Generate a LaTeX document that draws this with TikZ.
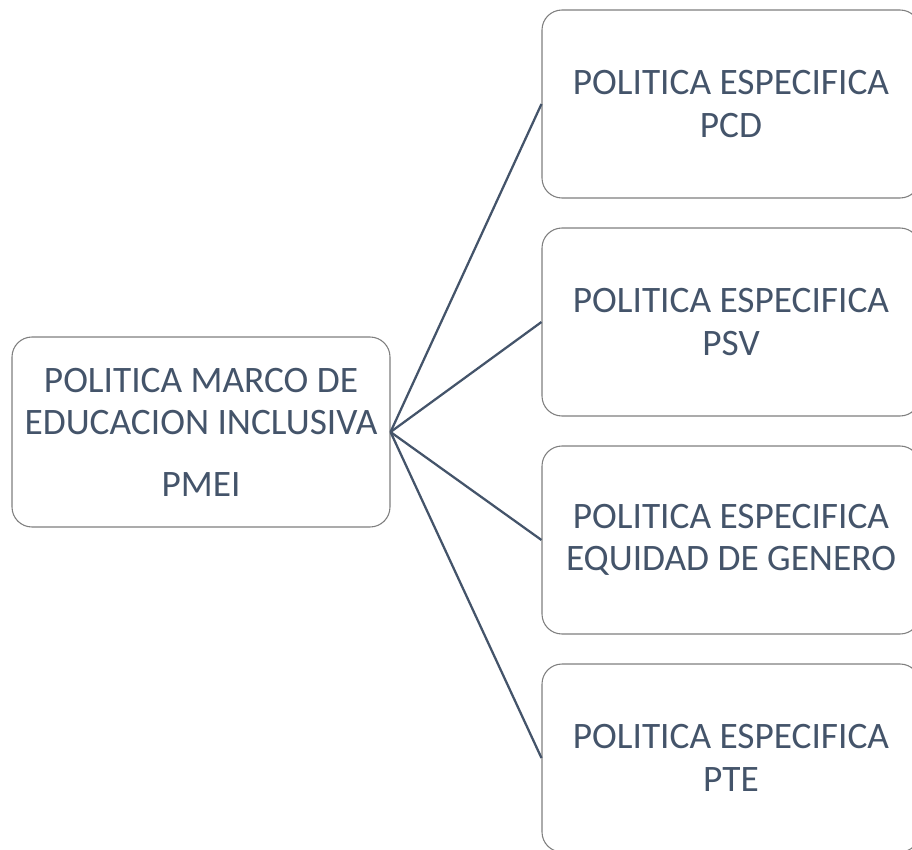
\documentclass[tikz,border=0pt]{standalone}
\usepackage{fontspec}
\setmainfont{Carlito}
\usepackage{tikz}
\definecolor{slate}{HTML}{44546A}
\definecolor{edge}{HTML}{7F7F7F}

\begin{document}
\begin{tikzpicture}[x=0.75pt,y=-0.75pt,
  box/.style={draw=edge,line width=0.8pt,rounded corners=15pt,fill=white,
    minimum width=283.5pt,minimum height=141pt,align=center,text=slate,
    font=\fontsize{28}{32}\selectfont},
  link/.style={draw=slate,line width=1.7pt}]
\useasboundingbox (0,0) rectangle (912,849);

\node[box,minimum height=142.5pt] (pmei) at (201,432) {POLITICA MARCO DE\\EDUCACION INCLUSIVA\\[14pt]PMEI};

\node[box] (pcd) at (731,104) {POLITICA ESPECIFICA\\PCD};
\node[box] (psv) at (731,322) {POLITICA ESPECIFICA\\PSV};
\node[box] (gen) at (731,540) {POLITICA ESPECIFICA\\EQUIDAD DE GENERO};
\node[box] (pte) at (731,758) {POLITICA ESPECIFICA\\PTE};

\draw[link] (pmei.east) -- (pcd.west);
\draw[link] (pmei.east) -- (psv.west);
\draw[link] (pmei.east) -- (gen.west);
\draw[link] (pmei.east) -- (pte.west);
\end{tikzpicture}
\end{document}
